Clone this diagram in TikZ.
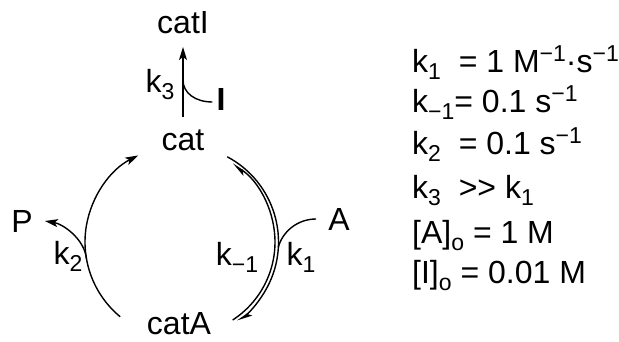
\documentclass[tikz,border=0pt]{standalone}
\usepackage{fontspec}
\setmainfont{Liberation Sans}
\usetikzlibrary{arrows.meta,calc}
\newcommand\lo[1]{\raisebox{-7pt}{\fontsize{23}{23}\selectfont #1}}
\newcommand\hi[1]{\raisebox{11pt}{\fontsize{23}{23}\selectfont #1}}
\begin{document}
\begin{tikzpicture}[x=1pt,y=-1pt,
  lbl/.style={inner sep=0pt, anchor=base, font=\fontsize{32}{32}\selectfont},
  rl/.style={inner sep=0pt, anchor=base west, font=\fontsize{32}{32}\selectfont},
  ln/.style={line width=1.4pt},
  tip/.style={-{Stealth[length=13pt,width=8pt,inset=3pt]}},
  hp/.style={-{Stealth[length=13pt,width=8pt,inset=3pt,harpoon]}},
]
\path[use as bounding box] (0,0) rectangle (619,341);
% species
\node[lbl] (catI) at (183,33) {catI};
\node[lbl] (cat) at (183,150) {cat};
\node[lbl] (catA) at (179,334) {catA};
\node[lbl] (P) at (22,232) {P};
\node[lbl] (A) at (339,230) {A};
\node[lbl,font=\fontsize{32}{32}\selectfont\bfseries] (I) at (221,110) {I};
% rate labels
\node[lbl] (k3) at (160,92) {k\lo{3}};
\node[lbl] (k2) at (68,264) {k\lo{2}};
\node[lbl] (km1) at (237,265) {k\lo{−1}};
\node[lbl] (k1) at (301,265) {k\lo{1}};
% vertical arrow cat -> catI
\draw[ln,tip] ([yshift=33pt]cat.base) -- ([yshift=-14pt]catI.base);
\coordinate (j3) at (183,80);
\draw[ln] ([xshift=-4pt,yshift=-3pt]I.west) .. controls +(-17,0) and +(0,13) .. (j3);
% cycle
\coordinate (ctr) at (182,242);
\draw[ln,tip] ($(ctr)+(129.6:97)$) arc[start angle=129.6, end angle=243.2, radius=97];
\draw[ln,hp] ($(ctr)+(-62:96.5)$) arc[start angle=-62, end angle=55, radius=96.5];
\draw[ln,hp] ($(ctr)+(57:93)$) arc[start angle=57, end angle=-57, radius=93];
\coordinate (jP) at ($(ctr)+(170:97)$);
\draw[ln,tip] (jP) .. controls +(-2,-20) and +(18,3) .. ([xshift=12pt]P.east);
\coordinate (jA) at ($(ctr)+(3:96.5)$);
\draw[ln] ([xshift=-12pt]A.west) .. controls +(-19,0) and +(4,-15) .. (jA);
% constants
\node[rl] (r1) at (412,72) {k\lo{1}\ \ = 1 M\hi{−1}·s\hi{−1}};
\node[rl] (r2) at (412,112) {k\lo{−1}= 0.1 s\hi{−1}};
\node[rl] (r3) at (412,154) {k\lo{2}\ \ = 0.1 s\hi{−1}};
\node[rl] (r4) at (412,198) {k\lo{3}\ \ >{}> k\lo{1}};
\node[rl] (r5) at (412,243) {[A]\lo{o} = 1 M};
\node[rl] (r6) at (412,283) {[I]\lo{o} = 0.01 M};
\end{tikzpicture}
\end{document}
